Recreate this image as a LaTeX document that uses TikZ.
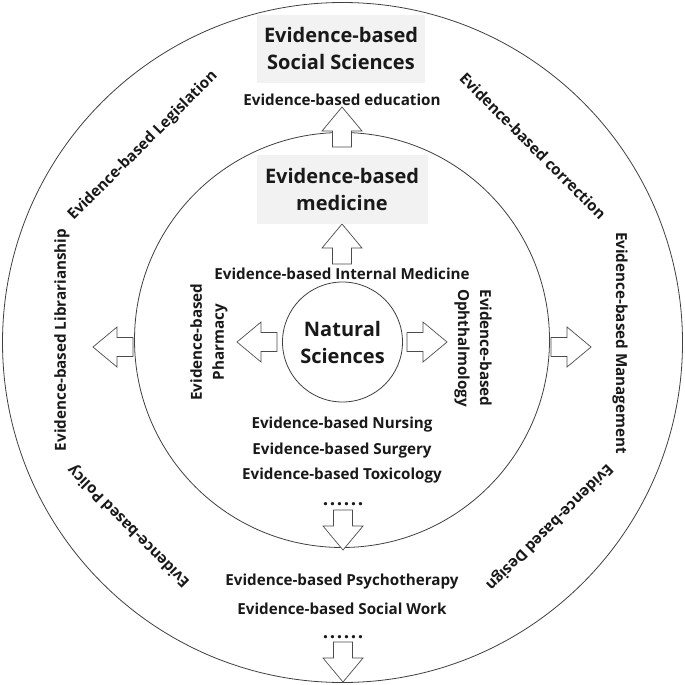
\documentclass[tikz,border=0pt]{standalone}
\usepackage{fontspec}
\setmainfont{Open Sans}
\newcommand{\sixdots}{.\hspace{1.6pt}.\hspace{1.6pt}.\hspace{1.6pt}.\hspace{1.6pt}.\hspace{1.6pt}.}
\begin{document}
\begin{tikzpicture}[x=1pt,y=-1pt,
  ring/.style={draw=black!75, line width=0.8pt},
  lbl/.style={font=\bfseries\fontsize{15.2}{26}\selectfont, inner sep=0pt, text=black!90},
  dotlbl/.style={lbl, font=\bfseries\fontsize{19}{26}\selectfont, anchor=base},
  twolbl/.style={lbl, align=center, font=\bfseries\fontsize{15.2}{22}\selectfont},
  titlebox/.style={font=\bfseries\fontsize{20}{27}\selectfont, align=center, fill=black!5, minimum width=168pt, minimum height=68pt, inner sep=0pt, text=black!90},
  barrow/.pic={\draw[draw=black!70, fill=white, line width=0.7pt] (0,-9.5) -- (16,-9.5) -- (16,-20) -- (40,0) -- (16,20) -- (16,9.5) -- (0,9.5) -- cycle;}
]
\useasboundingbox (0,0) rectangle (685,685);
\fill[white] (0,0) rectangle (685,685);

% rings
\node[ring, circle, minimum size=680pt, inner sep=0pt] (outer) at (342.5,342.5) {};
\node[ring, circle, minimum size=415pt, inner sep=0pt] (middle) at (342,340) {};

% arrows
\pic[rotate=90] at (342,147) {barrow};
\pic[rotate=90] at (342,264) {barrow};
\pic[rotate=180] at (277,342) {barrow};
\pic at (407,342) {barrow};
\pic[rotate=270] at (343,510) {barrow};
\pic[rotate=270] at (343,642) {barrow};
\pic[rotate=180] at (133,347) {barrow};
\pic at (551,347) {barrow};

% title boxes
\node[titlebox] (social) at (341,49) {Evidence-based\\Social Sciences};
\node[titlebox, minimum width=171pt, minimum height=69pt] (medicine) at (342,189) {Evidence-based\\medicine};

% center
\node[ring, circle, minimum size=120pt, inner sep=0pt, font=\bfseries\fontsize{20}{27}\selectfont, align=center, text=black!90] (natural) at (342.5,342) {Natural\\Sciences};

% inner labels
\node[lbl] (educ) at (342,100) {Evidence-based education};
\node[lbl] (intmed) at (342,274) {Evidence-based Internal Medicine};
\node[twolbl, rotate=90] (pharm) at (209,342) {Evidence-based\\Pharmacy};
\node[twolbl, rotate=-90] (ophth) at (473,348) {Evidence-based\\Ophthalmology};
\node[lbl] (nurs) at (342,425) {Evidence-based Nursing};
\node[lbl] (surg) at (342,451) {Evidence-based Surgery};
\node[lbl] (toxi) at (342,476) {Evidence-based Toxicology};
\node[dotlbl] (dots1) at (343,505) {\sixdots};
\node[lbl] (psych) at (342,582) {Evidence-based Psychotherapy};
\node[lbl] (socw) at (342,609) {Evidence-based Social Work};
\node[dotlbl] (dots2) at (343,638) {\sixdots};

% outer ring labels
\node[lbl, rotate=90] (libr) at (62,340) {Evidence-based Librarianship};
\node[lbl, rotate=-90] (mgmt) at (620,343) {Evidence-based Management};
\node[lbl, rotate=45] (legis) at (143,146) {Evidence-based Legislation};
\node[lbl, rotate=-45] (corr) at (533,146) {Evidence-based correction};
\node[lbl, rotate=135] (policy) at (129,526) {Evidence-based Policy};
\node[lbl, rotate=-135] (design) at (549,527) {Evidence-based Design};
\end{tikzpicture}
\end{document}
